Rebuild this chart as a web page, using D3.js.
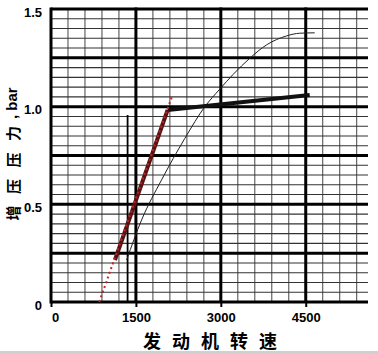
<!DOCTYPE html>
<html>
<head>
<meta charset="utf-8">
<script src="https://cdn.jsdelivr.net/npm/d3@7"></script>
<style>
  body { margin: 0; background: #fff; }
  svg { display: block; }
</style>
</head>
<body>
<div id="chart"></div>
<script>
const w = 378;
const h = 354;

// axis ticks
const rpmTicks = [0, 1500, 3000, 4500];
const boostTicks = [0, 0.5, 1.0, 1.5];

// thick line, rising part (maroon) and flat part (black)
const riseRpm = [1130, 2060];
const riseBar = [0.215, 0.983];
const flatRpm = [2060, 4570];
const flatBar = [0.983, 1.06];

// red dotted line
const dotRpm = [852, 2147];
const dotBar = [0, 1.06];

// thin curve
const curveRpm = [1336, 1600, 1953, 2365, 2718, 2982, 3217, 3512, 3806, 4159, 4394, 4659];
const curveBar = [0.215, 0.42, 0.625, 0.838, 1.0, 1.09, 1.165, 1.248, 1.316, 1.362, 1.376, 1.378];

// thin vertical marker
const markRpm = [1353];
const markBar = [0.957];

const xTitle = ["发", "动", "机", "转", "速"];
const yTitle = ["增", "压", "压", "力"];

const svg = d3.select("#chart")
    .append("svg")
    .attr("width", w)
    .attr("height", h);

const x = d3.scaleLinear().domain([0, 5600]).range([51, 368]);
const y = d3.scaleLinear().domain([0, 1.5]).range([302, 9]);

// grid
const minorX = d3.range(1, 19).map(i => i * 300).filter(v => v % 1500 !== 0);
const majorX = [1500, 3000, 4500];
const minorY = d3.range(1, 30).map(i => +(i * 0.05).toFixed(2)).filter(v => Math.round(v * 100) % 25 !== 0);
const majorY = [0.25, 0.5, 0.75, 1.0, 1.25, 1.5];

svg.append("g").selectAll("line")
    .data(minorX)
    .enter()
    .append("line")
    .attr("x1", d => x(d)).attr("x2", d => x(d))
    .attr("y1", y(1.5)).attr("y2", y(0))
    .attr("stroke", "#555")
    .attr("stroke-width", 1.1);

svg.append("g").selectAll("line")
    .data(minorY)
    .enter()
    .append("line")
    .attr("x1", x(0)).attr("x2", x(5600))
    .attr("y1", d => y(d)).attr("y2", d => y(d))
    .attr("stroke", "#333")
    .attr("stroke-width", 1.1);

svg.append("g").selectAll("line")
    .data(majorY)
    .enter()
    .append("line")
    .attr("x1", x(0)).attr("x2", x(5600))
    .attr("y1", d => y(d)).attr("y2", d => y(d))
    .attr("stroke", "#000")
    .attr("stroke-width", 3);

svg.append("g").selectAll("line")
    .data(majorX)
    .enter()
    .append("line")
    .attr("x1", d => x(d)).attr("x2", d => x(d))
    .attr("y1", y(1.5) - 1.5).attr("y2", y(0))
    .attr("stroke", "#000")
    .attr("stroke-width", 3);

// axes
const xAxis = d3.axisBottom(x)
    .tickValues(rpmTicks)
    .tickSize(5)
    .tickSizeOuter(0)
    .tickPadding(6)
    .tickFormat(d3.format("d"));

const gx = svg.append("g")
    .attr("transform", "translate(0," + y(0) + ")")
    .call(xAxis);
gx.select(".domain").remove();
gx.selectAll(".tick line").attr("stroke", "#000").attr("stroke-width", 2);
gx.selectAll(".tick text")
    .attr("dx", d => d === 0 ? 4 : 0)
    .style("font", "bold 13px 'Liberation Sans', Arial, sans-serif")
    .attr("fill", "#000");

const yAxis = d3.axisLeft(y)
    .tickValues(boostTicks)
    .tickSize(0)
    .tickPadding(9)
    .tickFormat(d => d === 0 ? "0" : d3.format(".1f")(d));

const gy = svg.append("g")
    .attr("transform", "translate(" + x(0) + ",0)")
    .call(yAxis);
gy.select(".domain").remove();
gy.selectAll(".tick text")
    .attr("dy", "0.55em")
    .style("font", "bold 13px 'Liberation Sans', Arial, sans-serif")
    .attr("fill", "#000");

// axis frame lines
svg.append("line")
    .attr("x1", x(0)).attr("x2", x(0))
    .attr("y1", y(1.5) - 1.5).attr("y2", y(0) + 1.5)
    .attr("stroke", "#000").attr("stroke-width", 3);
svg.append("line")
    .attr("x1", x(0)).attr("x2", x(5600))
    .attr("y1", y(0)).attr("y2", y(0))
    .attr("stroke", "#000").attr("stroke-width", 3);

const line = d3.line().x(d => x(d[0])).y(d => y(d[1]));

// thin vertical marker
svg.append("g").selectAll("line")
    .data(markRpm)
    .enter()
    .append("line")
    .attr("x1", d => x(d)).attr("x2", d => x(d))
    .attr("y1", (d, i) => y(markBar[i])).attr("y2", y(0))
    .attr("stroke", "#000")
    .attr("stroke-width", 1.8);

// thin curve
svg.append("path")
    .attr("d", d3.line().x(d => x(d[0])).y(d => y(d[1])).curve(d3.curveMonotoneX)(d3.zip(curveRpm, curveBar)))
    .attr("fill", "none")
    .attr("stroke", "#222")
    .attr("stroke-width", 1);

// thick lines
svg.append("path")
    .attr("d", line(d3.zip(flatRpm, flatBar)))
    .attr("fill", "none")
    .attr("stroke", "#111")
    .attr("stroke-width", 4);

svg.append("path")
    .attr("d", line(d3.zip(riseRpm, riseBar)))
    .attr("fill", "none")
    .attr("stroke", "#541414")
    .attr("stroke-width", 4);

// red dotted line
svg.append("path")
    .attr("d", line(d3.zip(dotRpm, dotBar)))
    .attr("fill", "none")
    .attr("stroke", "#c02424")
    .attr("stroke-width", 2)
    .attr("stroke-dasharray", "2,3");

// titles
svg.append("g").selectAll("text")
    .data(xTitle)
    .enter()
    .append("text")
    .attr("x", (d, i) => 152 + i * 29)
    .attr("y", 348)
    .attr("text-anchor", "middle")
    .style("font", "bold 18px 'Noto Sans CJK SC', sans-serif")
    .attr("fill", "#000")
    .text(d => d);

// y title, one glyph at a time
svg.append("g").selectAll("text")
    .data(yTitle)
    .enter()
    .append("text")
    .attr("transform", (d, i) => "translate(19," + (213 - i * 26.5) + ") rotate(-90)")
    .attr("text-anchor", "middle")
    .style("font", "bold 15px 'Noto Sans CJK SC', sans-serif")
    .attr("fill", "#000")
    .text(d => d);

svg.append("text")
    .attr("transform", "translate(17,119) rotate(-90)")
    .attr("text-anchor", "start")
    .style("font", "bold 15px 'Liberation Sans', Arial, sans-serif")
    .attr("fill", "#000")
    .text(", bar");

// grey strip at bottom edge
svg.append("rect")
    .attr("x", 0).attr("y", 351)
    .attr("width", w).attr("height", 3)
    .attr("fill", "#d0d0d0");
</script>
</body>
</html>
